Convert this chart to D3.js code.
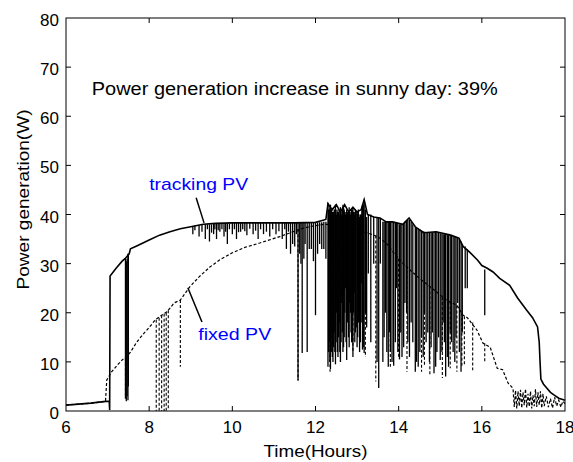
<!DOCTYPE html>
<html>
<head>
<meta charset="utf-8">
<script src="https://cdn.jsdelivr.net/npm/d3@7"></script>
<style>
  body { margin: 0; background: #fff; }
  text { font-family: "Liberation Sans", Arial, sans-serif; }
</style>
</head>
<body>
<div class="container"></div>
<script>
// tick values
const hourTicks = [6, 8, 10, 12, 14, 16, 18];
const powerTicks = [0, 10, 20, 30, 40, 50, 60, 70, 80];

// tracking PV, main curve [hour, W]
const trackingCurve = [
    [6.0, 1.2], [6.3, 1.4], [6.6, 1.6], [6.9, 1.9], [7.04, 2.0], [7.05, 0.2], [7.06, 27.5],
    [7.2, 29], [7.35, 30.5], [7.42, 31], [7.52, 32], [7.55, 33], [7.7, 33.6], [8.0, 34.8],
    [8.25, 35.8], [8.5, 36.5], [8.75, 37.1], [9.0, 37.5], [9.3, 38], [9.6, 38.2], [10.0, 38.3],
    [10.5, 38.3], [11.0, 38.3], [11.5, 38.3], [12.0, 38.4], [12.25, 39], [12.3, 42.2],
    [12.4, 41], [12.5, 42], [12.6, 40.5], [12.7, 42], [12.8, 40.5], [12.9, 41.5], [13.0, 40.5],
    [13.1, 41], [13.17, 43], [13.25, 40], [13.4, 39.5], [13.55, 39.3], [13.7, 38.5],
    [13.85, 38.5], [14.1, 38], [14.25, 39.3], [14.4, 37.5], [14.6, 36.3], [14.9, 36.5],
    [15.25, 35.8], [15.45, 35.2], [15.55, 33.5], [15.7, 32.4], [15.9, 30.7], [16.0, 29.6],
    [16.12, 29.1], [16.27, 28.3], [16.43, 27], [16.67, 25.6], [16.86, 23], [17.07, 20.6],
    [17.22, 19], [17.34, 17.1], [17.38, 14], [17.4, 10], [17.42, 6.5], [17.48, 5.5],
    [17.55, 4.8], [17.65, 3.8], [17.75, 3.2], [17.85, 2.6], [18.0, 2.2]
];

// tracking PV, drops [hour, top W, bottom W]
const trackingDips = [
    [7.43, 31, 2.5], [7.45, 30.5, 2], [7.47, 31, 3], [7.49, 32, 2.2], [7.5, 32, 5],
    [9.05, 37.6, 36], [9.1, 37.7, 36.8], [9.2, 37.8, 35.5], [9.27, 37.9, 36.5], [9.35, 38, 35],
    [9.4, 38, 37], [9.45, 38, 34.5], [9.5, 38, 36.3], [9.55, 38.1, 36], [9.58, 38.1, 37],
    [9.62, 38.1, 35], [9.66, 38.1, 36.8], [9.7, 38.1, 36.5], [9.75, 38.2, 37], [9.8, 38.2, 35.5],
    [9.84, 38.2, 36.5], [9.88, 38.2, 34], [9.93, 38.2, 37], [10.0, 38.3, 36], [10.05, 38.3, 37],
    [10.1, 38.3, 35], [10.15, 38.3, 36.4], [10.2, 38.3, 36.5], [10.25, 38.3, 37], [10.3, 38.3, 36.6],
    [10.35, 38.3, 35.8], [10.42, 38.3, 37.1], [10.5, 38.3, 36], [10.56, 38.3, 36.7], [10.62, 38.3, 35],
    [10.68, 38.3, 37], [10.75, 38.3, 36], [10.82, 38.3, 36.5], [10.9, 38.3, 35.5], [10.97, 38.3, 37],
    [11.05, 38.3, 36], [11.12, 38.3, 36.6], [11.2, 38.3, 35], [11.26, 38.3, 37], [11.3, 38.3, 33],
    [11.35, 38.3, 36.5], [11.4, 38.3, 32], [11.45, 38.3, 34], [11.5, 38.3, 33.5], [11.54, 38.3, 36],
    [11.58, 38.3, 6.2], [11.62, 38.3, 32], [11.65, 38.3, 30], [11.68, 38.3, 11.8], [11.72, 38.3, 31],
    [11.75, 38.3, 34], [11.8, 38.3, 12], [11.85, 38.3, 33], [11.9, 38.3, 33], [11.95, 38.3, 30.5],
    [12.0, 38.4, 19.5], [12.05, 38.4, 32], [12.1, 38.4, 34], [12.15, 38.4, 33], [12.2, 38.5, 33],
    [12.25, 38.5, 31],
    [12.3, 42.4, 9], [12.315, 41, 12], [12.33, 41, 14], [12.345, 41.5, 10], [12.36, 42, 8.5],
    [12.375, 41, 15], [12.39, 41, 12], [12.405, 40.5, 11], [12.42, 40, 10], [12.435, 40.5, 13],
    [12.45, 41, 16], [12.465, 41, 12], [12.48, 42, 9.5], [12.495, 41, 14], [12.51, 40, 20],
    [12.525, 40.5, 12], [12.54, 41, 11], [12.555, 40.5, 15], [12.57, 40, 18], [12.585, 41, 12],
    [12.6, 41.5, 10], [12.615, 40.5, 14], [12.63, 40, 22], [12.645, 41, 16], [12.66, 42, 12],
    [12.675, 41.5, 13], [12.69, 41, 15], [12.705, 40.5, 20], [12.72, 40, 25], [12.735, 40.5, 14],
    [12.75, 41, 10.4], [12.765, 40.5, 18], [12.78, 40, 19], [12.795, 40.5, 15], [12.81, 41.5, 13],
    [12.825, 40.5, 22], [12.84, 40, 20], [12.855, 40.5, 16], [12.87, 41, 14], [12.885, 41, 14],
    [12.9, 41.5, 11], [12.915, 40.5, 20], [12.93, 40, 24], [12.945, 40.5, 14], [12.96, 41, 16],
    [12.98, 40.5, 17], [13.0, 40, 13], [13.015, 40.5, 15], [13.03, 41, 18], [13.045, 40, 20],
    [13.06, 39.5, 12], [13.08, 40, 14], [13.1, 40, 26], [13.115, 41, 18], [13.13, 42, 12.5],
    [13.15, 42, 13], [13.17, 43, 11.8], [13.2, 41, 20], [13.23, 39.5, 17], [13.27, 40, 28],
    [13.33, 40, 14], [13.4, 39.5, 30], [13.48, 39.3, 10], [13.52, 39.3, 4.7], [13.56, 39.3, 30],
    [13.62, 38.5, 10], [13.65, 38.5, 15], [13.68, 38.5, 20], [13.715, 38.5, 12], [13.75, 38.5, 9],
    [13.78, 38.5, 16], [13.8, 38.5, 12], [13.84, 38.5, 10], [13.88, 38.5, 9.2], [13.92, 38.4, 14],
    [13.95, 38.3, 25], [13.98, 38.2, 12], [14.02, 38, 10.5], [14.05, 38, 16], [14.08, 38, 11],
    [14.12, 38.2, 13], [14.15, 38.5, 22], [14.19, 38.8, 20], [14.22, 39, 14], [14.26, 38.9, 11],
    [14.3, 38.5, 18], [14.34, 38, 14], [14.4, 37.5, 8], [14.43, 37.3, 10], [14.47, 37.2, 9],
    [14.51, 37, 12], [14.55, 36.8, 15], [14.59, 36.6, 11], [14.62, 36.5, 20], [14.66, 36.4, 14],
    [14.7, 36.4, 16], [14.74, 36.4, 10], [14.78, 36.4, 13], [14.81, 36.4, 16], [14.85, 36.5, 7.7],
    [14.89, 36.5, 9], [14.92, 36.5, 12], [14.96, 36.3, 15], [15.0, 36.2, 10.4], [15.04, 36.1, 12],
    [15.07, 36, 18], [15.1, 36, 14], [15.13, 36, 7], [15.17, 35.9, 11], [15.2, 35.8, 9],
    [15.24, 35.8, 16], [15.27, 35.8, 14], [15.31, 35.6, 12], [15.35, 35.5, 10], [15.38, 35.4, 15],
    [15.42, 35.2, 22], [15.46, 35, 12], [15.5, 34.5, 8], [15.53, 34, 16], [15.6, 33.5, 25],
    [15.65, 33, 25], [16.07, 28.8, 19.5]
];

// fixed PV, main curve [hour, W]
const fixedCurve = [
    [6.0, 1.2], [6.3, 1.4], [6.6, 1.6], [6.9, 1.9], [6.95, 2], [6.98, 6.3], [7.1, 8],
    [7.25, 9.5], [7.4, 10.8], [7.45, 11], [7.55, 12], [7.7, 14], [7.85, 15.6], [8.0, 17],
    [8.14, 18.5], [8.3, 19.5], [8.43, 20.2], [8.6, 22], [8.75, 22.6], [8.98, 25.3], [9.2, 27.3],
    [9.46, 29.3], [9.7, 30.8], [10.0, 32.2], [10.3, 33.3], [10.66, 34.2], [11.14, 35.5],
    [11.4, 36.3], [11.62, 37], [11.9, 37.6], [12.2, 38], [12.5, 38], [13.0, 37], [13.5, 35.5],
    [13.72, 34], [13.9, 32], [14.05, 30.5], [14.3, 28.5], [14.5, 27], [14.8, 25], [15.15, 22.6],
    [15.4, 21.5], [15.55, 19.5], [15.65, 19], [15.88, 16.5], [16.03, 13.8], [16.2, 13],
    [16.37, 8.7], [16.5, 8.4], [16.63, 5.7], [16.75, 4.6], [16.78, 0.8], [16.81, 4.2],
    [16.84, 0.5], [16.87, 4], [16.9, 1], [16.93, 4.3], [16.96, 0.6], [16.99, 3.8], [17.02, 1.2],
    [17.05, 4.5], [17.08, 0.7], [17.11, 3.5], [17.14, 0.9], [17.17, 4], [17.2, 0.5], [17.23, 3.2],
    [17.26, 1], [17.29, 4.4], [17.32, 0.8], [17.35, 3.8], [17.38, 1.2], [17.41, 4], [17.44, 0.6],
    [17.47, 3.5], [17.5, 1], [17.55, 3], [17.6, 0.8], [17.65, 2.5], [17.7, 0.6], [17.75, 2.8],
    [17.8, 1], [17.85, 2.2], [17.9, 0.8], [17.95, 2], [18.0, 1.5]
];

// fixed PV, drops [hour, top W, bottom W]
const fixedDips = [
    [7.43, 10.8, 3], [8.17, 18.6, 0], [8.24, 19, 0], [8.3, 19.5, 0], [8.36, 19.8, 0],
    [8.41, 20, 0], [8.46, 20.5, 0.5], [8.75, 22.6, 9], [11.58, 37, 6.2], [12.35, 38, 8],
    [12.6, 37.8, 10], [12.9, 37.3, 12], [13.2, 36.5, 11], [13.45, 35.7, 6], [13.8, 33, 9],
    [14.0, 31, 11], [14.2, 29.5, 8], [14.55, 26.7, 8], [14.62, 26.3, 9], [14.75, 25.4, 7.3],
    [15.05, 23.2, 6.7], [15.24, 22.3, 8.7], [15.4, 21.5, 8], [15.52, 20, 9], [15.58, 19.3, 9.4],
    [15.78, 18, 8.3], [16.07, 13.8, 10]
];

// annotation pointers [from hour, from W, to hour, to W]
const trackingPointer = [9.13, 43.4, 9.32, 38.3];
const fixedPointer = [8.93, 25.1, 9.27, 18.1];

const svgWidth = 573,
    svgHeight = 462;

const margin = { top: 18, right: 8, bottom: 51, left: 66 };
const width = svgWidth - margin.left - margin.right;
const height = svgHeight - margin.top - margin.bottom;

const svg = d3.select(".container")
    .append("svg")
    .attr("width", svgWidth)
    .attr("height", svgHeight);

const chartGroup = svg.append("g")
    .attr("transform", `translate(${margin.left}, ${margin.top})`);

const x = d3.scaleLinear().domain([6, 18]).range([0, width]);
const y = d3.scaleLinear().domain([0, 80]).range([height, 0]);

// curves
const line = d3.line().x(d => x(d[0])).y(d => y(d[1]));

chartGroup.append("path")
    .datum(fixedCurve)
    .attr("d", line)
    .attr("fill", "none")
    .attr("stroke", "#000")
    .attr("stroke-width", 1.2)
    .attr("stroke-dasharray", "3,2");

chartGroup.selectAll(".fixed-dip")
    .data(fixedDips)
    .enter()
    .append("line")
    .attr("class", "fixed-dip")
    .attr("x1", d => x(d[0]))
    .attr("x2", d => x(d[0]))
    .attr("y1", d => y(d[1]))
    .attr("y2", d => y(d[2]))
    .attr("stroke", "#000")
    .attr("stroke-width", 1.1)
    .attr("stroke-dasharray", "3,2");

chartGroup.append("path")
    .datum(trackingCurve)
    .attr("d", line)
    .attr("fill", "none")
    .attr("stroke", "#000")
    .attr("stroke-width", 1.6);

chartGroup.selectAll(".track-dip")
    .data(trackingDips)
    .enter()
    .append("line")
    .attr("class", "track-dip")
    .attr("x1", d => x(d[0]))
    .attr("x2", d => x(d[0]))
    .attr("y1", d => y(d[1]))
    .attr("y2", d => y(d[2]))
    .attr("stroke", "#000")
    .attr("stroke-width", 1.3);

// frame and inward ticks
chartGroup.append("rect")
    .attr("width", width)
    .attr("height", height)
    .attr("fill", "none")
    .attr("stroke", "#000")
    .attr("stroke-width", 1);

const tickLen = 5;
hourTicks.slice(1, -1).forEach(t => {
    chartGroup.append("line")
        .attr("x1", x(t)).attr("x2", x(t))
        .attr("y1", height).attr("y2", height - tickLen)
        .attr("stroke", "#000");
    chartGroup.append("line")
        .attr("x1", x(t)).attr("x2", x(t))
        .attr("y1", 0).attr("y2", tickLen)
        .attr("stroke", "#000");
});
powerTicks.slice(1, -1).forEach(v => {
    chartGroup.append("line")
        .attr("x1", 0).attr("x2", tickLen)
        .attr("y1", y(v)).attr("y2", y(v))
        .attr("stroke", "#000");
    chartGroup.append("line")
        .attr("x1", width).attr("x2", width - tickLen)
        .attr("y1", y(v)).attr("y2", y(v))
        .attr("stroke", "#000");
});

// tick labels
chartGroup.selectAll(".xlabel")
    .data(hourTicks)
    .enter()
    .append("text")
    .attr("x", d => x(d))
    .attr("y", height + 22)
    .attr("text-anchor", "middle")
    .attr("font-size", "17px")
    .text(d => d);

chartGroup.selectAll(".ylabel")
    .data(powerTicks)
    .enter()
    .append("text")
    .attr("x", -7)
    .attr("y", d => y(d) + 8)
    .attr("text-anchor", "end")
    .attr("font-size", "17px")
    .text(d => d);

// axis titles
chartGroup.append("text")
    .attr("x", width / 2)
    .attr("y", height + 46)
    .attr("text-anchor", "middle")
    .attr("font-size", "16.5px")
    .attr("textLength", 104)
    .attr("lengthAdjust", "spacingAndGlyphs")
    .text("Time(Hours)");

chartGroup.append("text")
    .attr("transform", "rotate(-90)")
    .attr("x", -(height / 2) + 15)
    .attr("y", -37)
    .attr("text-anchor", "middle")
    .attr("font-size", "16.5px")
    .attr("textLength", 180)
    .attr("lengthAdjust", "spacingAndGlyphs")
    .text("Power generation(W)");

// annotations
chartGroup.append("text")
    .attr("x", x(6.62))
    .attr("y", y(64.4))
    .attr("font-size", "17.5px")
    .attr("textLength", 406)
    .attr("lengthAdjust", "spacingAndGlyphs")
    .text("Power generation increase in sunny day: 39%");

chartGroup.append("text")
    .attr("x", x(8.0))
    .attr("y", y(45.0))
    .attr("font-size", "17px")
    .attr("fill", "#0000ff")
    .attr("textLength", 99)
    .attr("lengthAdjust", "spacingAndGlyphs")
    .text("tracking PV");

chartGroup.append("text")
    .attr("x", x(9.18))
    .attr("y", y(14.5))
    .attr("font-size", "17px")
    .attr("fill", "#0000ff")
    .attr("textLength", 73)
    .attr("lengthAdjust", "spacingAndGlyphs")
    .text("fixed PV");

[trackingPointer, fixedPointer].forEach(p => {
    chartGroup.append("line")
        .attr("x1", x(p[0])).attr("y1", y(p[1]))
        .attr("x2", x(p[2])).attr("y2", y(p[3]))
        .attr("stroke", "#000")
        .attr("stroke-width", 1.5);
});
</script>
</body>
</html>
